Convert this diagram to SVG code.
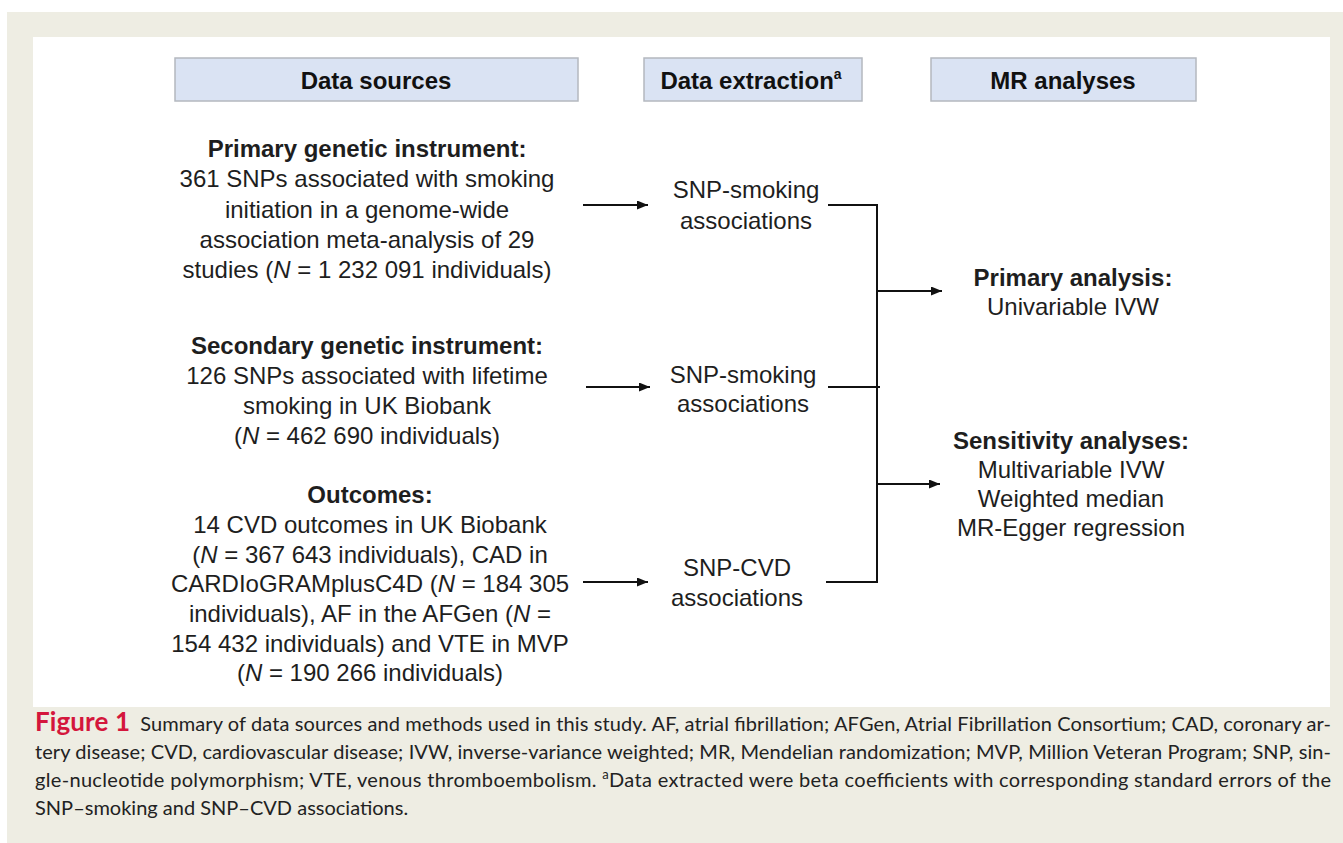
<svg xmlns="http://www.w3.org/2000/svg" width="1343" height="843" viewBox="0 0 1343 843">
<style>
.t{font-family:"Liberation Sans",Arial,sans-serif;font-size:24px;fill:#1e1e1e;text-anchor:middle}
.b{font-weight:bold}
.hdr{fill:#dae3f3;stroke:#b4b8bf;stroke-width:1.5}
.ht{font-family:"Liberation Sans",Arial,sans-serif;font-size:24px;font-weight:bold;fill:#111;text-anchor:middle}
.ln{stroke:#111;stroke-width:2;fill:none}
.cap{font-family:Lato,"Open Sans",sans-serif;font-size:20px;fill:#222}
</style>
<defs>
<marker id="ah" markerWidth="11" markerHeight="9" refX="11" refY="4.5" orient="auto" markerUnits="userSpaceOnUse">
<path d="M0,0 L11,4.5 L0,9 Z" fill="#111"/>
</marker>
</defs>
<rect width="1343" height="843" fill="#ffffff"/>
<rect x="7" y="12" width="1336" height="831" fill="#eeede3"/>
<rect x="33" y="37" width="1297" height="670" fill="#ffffff"/>

<g id="hdr-sources"><rect class="hdr" x="175" y="58" width="403" height="43"/><text class="ht" x="376" y="89">Data sources</text></g>
<g id="hdr-extraction"><rect class="hdr" x="644" y="58" width="218" height="43"/><text class="ht" x="751" y="89">Data extraction<tspan font-size="14" dy="-10">a</tspan></text></g>
<g id="hdr-mr"><rect class="hdr" x="931" y="58" width="265" height="43"/><text class="ht" x="1063" y="89">MR analyses</text></g>

<g id="primary">
<text class="t b" x="367" y="157">Primary genetic instrument:</text>
<text class="t" x="367" y="187">361 SNPs associated with smoking</text>
<text class="t" x="367" y="218">initiation in a genome-wide</text>
<text class="t" x="367" y="248">association meta-analysis of 29</text>
<text class="t" x="367" y="278">studies (<tspan font-style="italic">N</tspan> = 1 232 091 individuals)</text>
</g>
<g id="secondary">
<text class="t b" x="367" y="354">Secondary genetic instrument:</text>
<text class="t" x="367" y="384">126 SNPs associated with lifetime</text>
<text class="t" x="367" y="414">smoking in UK Biobank</text>
<text class="t" x="367" y="444">(<tspan font-style="italic">N</tspan> = 462 690 individuals)</text>
</g>
<g id="outcomes">
<text class="t b" x="370" y="503">Outcomes:</text>
<text class="t" x="370" y="533">14 CVD outcomes in UK Biobank</text>
<text class="t" x="370" y="563">(<tspan font-style="italic">N</tspan> = 367 643 individuals), CAD in</text>
<text class="t" x="370" y="592">CARDIoGRAMplusC4D (<tspan font-style="italic">N</tspan> = 184 305</text>
<text class="t" x="370" y="622">individuals), AF in the AFGen (<tspan font-style="italic">N</tspan> =</text>
<text class="t" x="370" y="652">154 432 individuals) and VTE in MVP</text>
<text class="t" x="370" y="681">(<tspan font-style="italic">N</tspan> = 190 266 individuals)</text>
</g>

<g id="ext1"><text class="t" x="746" y="198">SNP-smoking</text><text class="t" x="746" y="229">associations</text></g>
<g id="ext2"><text class="t" x="743" y="383">SNP-smoking</text><text class="t" x="743" y="412">associations</text></g>
<g id="ext3"><text class="t" x="737" y="576">SNP-CVD</text><text class="t" x="737" y="606">associations</text></g>

<g id="primary-analysis"><text class="t b" x="1073" y="286">Primary analysis:</text><text class="t" x="1073" y="315">Univariable IVW</text></g>
<g id="sensitivity"><text class="t b" x="1071" y="449">Sensitivity analyses:</text><text class="t" x="1071" y="478">Multivariable IVW</text><text class="t" x="1071" y="507">Weighted median</text><text class="t" x="1071" y="536">MR-Egger regression</text></g>

<g id="connectors">
<line class="ln" x1="583" y1="205" x2="648" y2="205" marker-end="url(#ah)"/>
<line class="ln" x1="586" y1="387" x2="650" y2="387" marker-end="url(#ah)"/>
<line class="ln" x1="583" y1="582" x2="648" y2="582" marker-end="url(#ah)"/>
<polyline class="ln" points="828,205 877,205 877,582 826,582"/>
<line class="ln" x1="828" y1="387" x2="880" y2="387"/>
<line class="ln" x1="877" y1="291" x2="942" y2="291" marker-end="url(#ah)"/>
<line class="ln" x1="877" y1="484" x2="940" y2="484" marker-end="url(#ah)"/>
</g>

<g id="caption">
<text class="cap" x="35" y="731" textLength="1296" lengthAdjust="spacing"><tspan font-weight="bold" font-size="26" fill="#d4163c">Figure 1</tspan><tspan dx="10">Summary of data sources and methods used in this study. AF, atrial fibrillation; AFGen, Atrial Fibrillation Consortium; CAD, coronary ar-</tspan></text>
<text class="cap" x="35" y="759" textLength="1296" lengthAdjust="spacing">tery disease; CVD, cardiovascular disease; IVW, inverse-variance weighted; MR, Mendelian randomization; MVP, Million Veteran Program; SNP, sin-</text>
<text class="cap" x="35" y="787" textLength="1296" lengthAdjust="spacing">gle-nucleotide polymorphism; VTE, venous thromboembolism. <tspan font-size="13" dy="-8">a</tspan><tspan dy="8">Data extracted were beta coefficients with corresponding standard errors of the</tspan></text>
<text class="cap" x="35" y="815">SNP–smoking and SNP–CVD associations.</text>
</g>
</svg>
